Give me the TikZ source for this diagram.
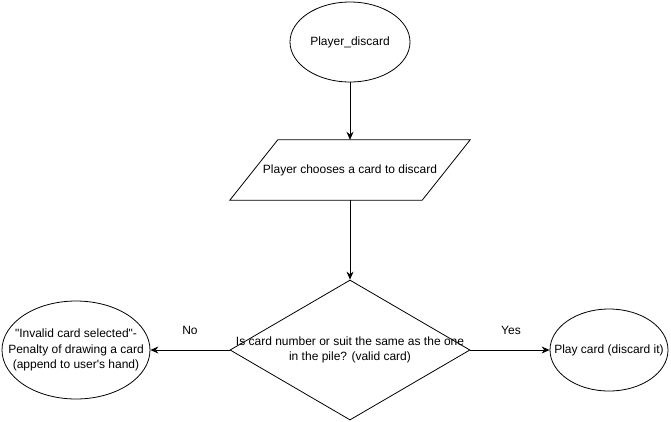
\documentclass[tikz,border=0pt]{standalone}
\usepackage{fontspec}
\setmainfont{Liberation Sans}[Ligatures=TeXOff]
\usetikzlibrary{shapes.geometric,arrows.meta}
\begin{document}
\begin{tikzpicture}[x=1pt,y=-1pt,
  every node/.style={font=\fontsize{12}{15.5}\selectfont},
  shp/.style={draw=black,line width=0.8pt,inner sep=0pt},
  term/.style={shp,ellipse},
  arr/.style={draw=black,line width=0.8pt,-{Stealth[length=8pt,width=7pt]}},
  lbl/.style={inner sep=0pt,align=center}]
\useasboundingbox (0,0) rectangle (671,421);
\node[term,minimum width=120pt,minimum height=80pt] (start) at (350,42) {Player\_discard};
\node[inner sep=0pt,minimum width=240pt,minimum height=60pt] (choose) at (350,170) {Player chooses a card to discard};
\draw[line width=0.8pt] ([xshift=48pt]choose.north west) -- (choose.north east) -- ([xshift=-48pt]choose.south east) -- (choose.south west) -- cycle;
\node[shp,diamond,minimum width=240pt,minimum height=140pt] (q) at (350,350) {};
\node[lbl] (qt) at (350,350) {Is card number or suit the same as the one\\in the pile? (valid card)};
\node[term,minimum width=148pt,minimum height=98pt] (bad) at (76,350) {};
\node[lbl] (badt) at (76,350) {"Invalid card selected"-\\Penalty of drawing a card\\(append to user's hand)};
\node[term,minimum width=118pt,minimum height=82pt] (play) at (609,350) {};
\node[lbl] (playt) at (609,350) {Play card (discard it)};
\draw[arr] (start) -- (choose.north);
\draw[arr] (choose.south) -- (q.north);
\draw[arr] (q.west) -- (bad.east);
\draw[arr] (q.east) -- (play.west);
\node[lbl] (no) at (190,330) {No};
\node[lbl] (yes) at (511,330) {Yes};
\end{tikzpicture}
\end{document}
